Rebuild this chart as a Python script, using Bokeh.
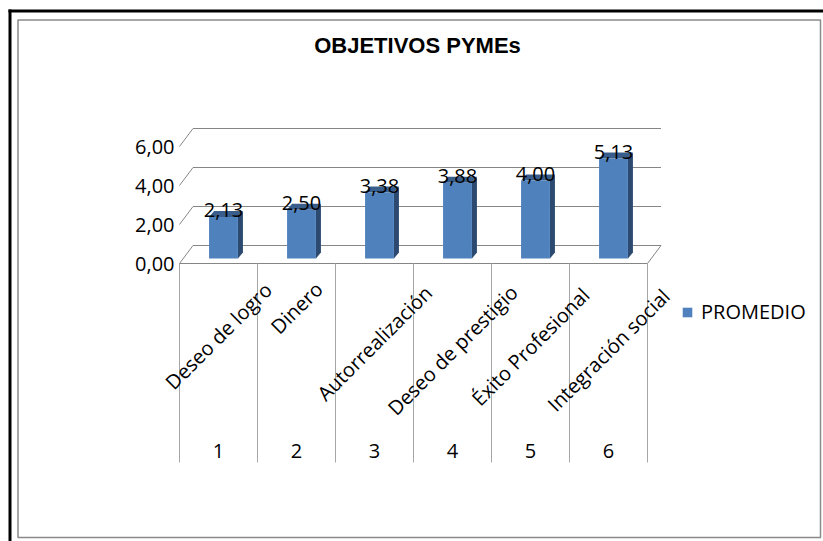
import math
from bokeh.plotting import figure
from bokeh.models import Range1d, Legend, LegendItem, ColumnDataSource
from bokeh.core.properties import value
from bokeh.embed import file_html
from bokeh.resources import INLINE

# ---------------- data ----------------
title_text = "OBJETIVOS PYMEs"
series_name = "PROMEDIO"
categories = ["Deseo de logro", "Dinero", "Autorrealización",
              "Deseo de prestigio", "Éxito Profesional", "Integración social"]
numbers = ["1", "2", "3", "4", "5", "6"]
promedio = [2.13, 2.50, 3.38, 3.88, 4.00, 5.13]
y_ticks = [0, 2, 4, 6]

# ---------------- layout constants (pixels) ----------------
W, H = 823, 541
PX_FLOOR_LEFT = 179      # front-left corner of the floor
PX_CAT_W = 78            # width of one category
PY_ZERO = 263            # front floor line
PX_PER_UNIT = 19.5       # pixels per value unit

FONT = "Open Sans"
FS = "20px"
GRID = "#868686"
DIVIDER = "#A6A6A6"
BAR_FRONT = "#4F81BD"
BAR_SIDE = "#2C4A70"
BAR_TOP = "#3A5E8C"

x_start = 0.5 - PX_FLOOR_LEFT / PX_CAT_W
x_end = x_start + W / PX_CAT_W
y_end = PY_ZERO / PX_PER_UNIT
y_start = y_end - H / PX_PER_UNIT


def X(px):
    return x_start + px / PX_CAT_W


def Y(py):
    return y_end - py / PX_PER_UNIT


def DX(px):
    return px / PX_CAT_W


def DY(py):
    return py / PX_PER_UNIT


p = figure(width=W, height=H, x_range=Range1d(x_start, x_end),
           y_range=Range1d(y_start, y_end), output_backend="svg",
           toolbar_location=None, min_border=0,
           x_axis_location=None, y_axis_location=None)
p.outline_line_color = None
p.grid.visible = False
p.background_fill_color = "white"
p.border_fill_color = "white"

# ---------------- frames ----------------
p.line([X(9.5), X(9.5)], [Y(9), Y(H)], line_color="black", line_width=3)
p.line([X(8), X(W)], [Y(10.5), Y(10.5)], line_color="black", line_width=3)
p.quad(left=X(17.5), right=X(820), top=Y(19.5), bottom=Y(537),
       fill_color=None, line_color="#8A8A8A", line_width=1.5)

# ---------------- title ----------------
p.text(x=[X(417)], y=[Y(45)], text=[title_text],
       text_font=value("Liberation Sans"), text_font_style="bold",
       text_font_size="22px", text_align="center", text_baseline="middle",
       text_color="black")

# ---------------- 3D walls ----------------
n = len(categories)
fx0, fx1 = 0.5, n + 0.5
BDX, BDY = DX(13.5), DY(18)
xs, ys = [], []
for t in y_ticks:
    xs.append([fx0, fx0 + BDX, fx1 + BDX])
    ys.append([t, t + BDY, t + BDY])
xs.append([fx0, fx1, fx1 + BDX])
ys.append([0, 0, BDY])
p.multi_line(xs=xs, ys=ys, line_color=GRID, line_width=1)

# category dividers below the floor
div_bottom = Y(462)
p.multi_line(xs=[[k + 0.5, k + 0.5] for k in range(n + 1)],
             ys=[[0, div_bottom] for _ in range(n + 1)],
             line_color=DIVIDER, line_width=1)

# y tick labels
p.text(x=[X(174)] * len(y_ticks), y=y_ticks,
       text=[f"{t:.2f}".replace(".", ",") for t in y_ticks],
       text_font=value(FONT), text_font_size=FS, text_align="right",
       text_baseline="middle", text_color="black")

# ---------------- bars ----------------
BAR_W = 0.37
BAR_OX, BAR_OY = DX(5), DY(5)
SIDE_DX, SIDE_DY = DX(5), DY(6)
xc = [i + 1 + BAR_OX for i in range(n)]
bottoms = [BAR_OY] * n
tops = [BAR_OY + v for v in promedio]

side_x, side_y, top_x, top_y = [], [], [], []
for c, b, t in zip(xc, bottoms, tops):
    l, r = c - BAR_W / 2, c + BAR_W / 2
    side_x.append([r, r + SIDE_DX, r + SIDE_DX, r])
    side_y.append([b, b + SIDE_DY, t + SIDE_DY, t])
    top_x.append([l, r, r + SIDE_DX, l + SIDE_DX])
    top_y.append([t, t, t + SIDE_DY, t + SIDE_DY])

p.patches(side_x, side_y, fill_color=BAR_SIDE, line_color=None)
p.patches(top_x, top_y, fill_color=BAR_TOP, line_color=None)
src = ColumnDataSource(dict(x=xc, bottom=bottoms, top=tops))
front = p.vbar(x="x", bottom="bottom", top="top", width=BAR_W, source=src,
               fill_color=BAR_FRONT, line_color=None)

# value labels
p.text(x=xc, y=[t + DY(6.5) for t in tops],
       text=[f"{v:.2f}".replace(".", ",") for v in promedio],
       text_font=value(FONT), text_font_size=FS, text_align="center",
       text_baseline="middle", text_color="black")

# ---------------- category labels (rotated 45°) ----------------
LABEL_TOP_PY = 281
cat_x = [i + 1 for i in range(n)]
cat_y = []
for c in categories:
    est_len = len(c) * 10.0
    half = (est_len * 0.707 + 10) / 2
    cat_y.append(Y(LABEL_TOP_PY + half))
p.text(x=cat_x, y=cat_y, text=categories, angle=math.pi / 4,
       text_font=value(FONT), text_font_size=FS, text_align="center",
       text_baseline="middle", text_color="black")

# category numbers
p.text(x=cat_x, y=[Y(450)] * n, text=numbers,
       text_font=value(FONT), text_font_size=FS, text_align="center",
       text_baseline="middle", text_color="black")

# ---------------- legend ----------------
legend = Legend(items=[LegendItem(label=series_name, renderers=[front])],
                location=(681, H - 325), orientation="vertical",
                glyph_width=12, glyph_height=12, label_standoff=8,
                padding=0, margin=0, spacing=0, label_height=12,
                border_line_color=None, background_fill_alpha=0,
                label_text_font=FONT, label_text_font_size=FS,
                label_text_color="black")
p.add_layout(legend)

open("out.html", "w").write(file_html(p, INLINE))
